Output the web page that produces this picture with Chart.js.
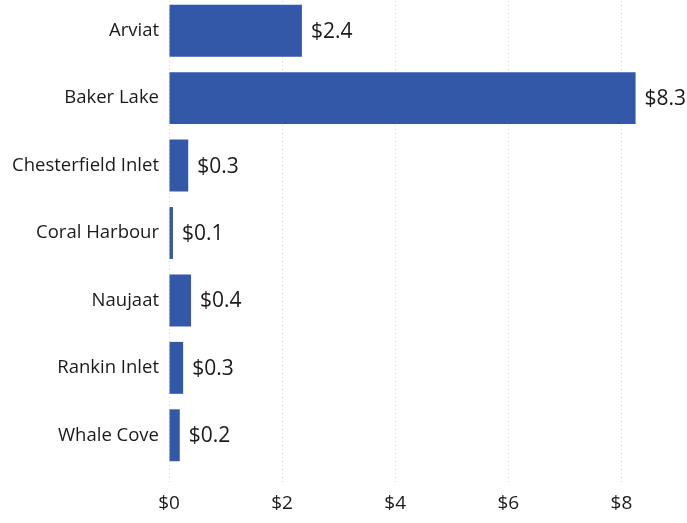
<!DOCTYPE html>
<html>
<head>
<meta charset="utf-8">
<script src="https://cdn.jsdelivr.net/npm/chart.js@4"></script>
<style>
  html, body { margin: 0; padding: 0; background: #fff; overflow: hidden; }
  #wrap { width: 687px; height: 527px; position: relative; margin-top: -3px; }
</style>
</head>
<body>
<div id="wrap"><canvas id="chart"></canvas></div>
<script>
const communities = ['Arviat', 'Baker Lake', 'Chesterfield Inlet', 'Coral Harbour', 'Naujaat', 'Rankin Inlet', 'Whale Cove'];
const amounts = [2.35, 8.25, 0.34, 0.07, 0.39, 0.25, 0.19];
const xTicks = [0, 2, 4, 6, 8];

const fontFamily = '"Open Sans", "Noto Sans", sans-serif';

// draws "$x.x" just past the end of each bar
const valueLabels = {
    id: 'valueLabels',
    afterDatasetsDraw(chart) {
        const c = chart.ctx;
        const meta = chart.getDatasetMeta(0);
        c.save();
        c.font = '21px ' + fontFamily;
        c.fillStyle = '#1a1a1a';
        c.textBaseline = 'middle';
        c.textAlign = 'left';
        meta.data.forEach((bar, i) => {
            c.fillText('$' + amounts[i].toFixed(1), bar.x + 9, bar.y + 1);
        });
        c.restore();
    }
};

new Chart(document.getElementById('chart'), {
    type: 'bar',
    data: {
        labels: communities,
        datasets: [{
            data: amounts,
            backgroundColor: '#3358a8',
            barPercentage: 0.77,
            categoryPercentage: 1
        }]
    },
    options: {
        indexAxis: 'y',
        responsive: true,
        maintainAspectRatio: false,
        animation: false,
        layout: { padding: { top: 0, right: 9, left: 0, bottom: 0 } },
        plugins: {
            legend: { display: false },
            tooltip: { enabled: false }
        },
        scales: {
            x: {
                min: 0,
                max: 9,
                afterBuildTicks: (scale) => { scale.ticks = xTicks.map(v => ({ value: v })); },
                afterFit: (scale) => { scale.height = 55; },
                border: { display: false, dash: [1, 3] },
                grid: {
                    color: '#d6d6d6',
                    drawTicks: true,
                    tickLength: 15,
                    tickBorderDash: [1, 3]
                },
                ticks: {
                    padding: 8,
                    color: '#1a1a1a',
                    font: { size: 19, family: fontFamily },
                    callback: (v) => '$' + v
                }
            },
            y: {
                afterFit: (scale) => {
                    scale.width = 169;
                    scale.paddingTop = 0;
                    scale.paddingBottom = 0;
                },
                border: { display: false },
                grid: { display: false, drawTicks: false },
                ticks: {
                    padding: 10,
                    color: '#1a1a1a',
                    font: { size: 18.5, family: fontFamily }
                }
            }
        }
    },
    plugins: [valueLabels]
});
</script>
</body>
</html>
